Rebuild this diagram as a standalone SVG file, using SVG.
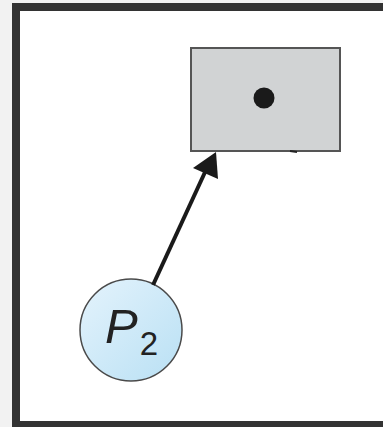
<svg xmlns="http://www.w3.org/2000/svg" width="383" height="427" viewBox="0 0 383 427">
  <defs>
    <linearGradient id="blue" x1="0" y1="0" x2="1" y2="1">
      <stop offset="0" stop-color="#e4f3fc"/>
      <stop offset="1" stop-color="#b9e0f4"/>
    </linearGradient>
  </defs>
  <style>
    .frame { fill: #ffffff; stroke: #333333; stroke-width: 8; }
    .box { fill: #d1d3d4; stroke: #555555; stroke-width: 2; }
    .proc { fill: url(#blue); stroke: #4a4a4a; stroke-width: 1.5; }
    .edge { stroke: #1a1a1a; stroke-width: 4; fill: none; }
    .label { font-family: "Liberation Sans", Arial, sans-serif; fill: #222222; }
  </style>
  <rect x="0" y="0" width="383" height="427" fill="#f2f2f2"/>
  <rect class="frame" x="16" y="7" width="375" height="418"/>
  <g id="resource">
    <rect class="box" x="191" y="48" width="149" height="103"/>
    <circle cx="264" cy="98" r="10.5" fill="#1a1a1a"/>
    <path d="M290,151 L297,152" stroke="#222" stroke-width="2"/>
  </g>
  <g id="p2">
    <circle class="proc" cx="131" cy="330" r="51"/>
    <text class="label" x="105" y="343" font-size="49"><tspan font-style="italic">P</tspan><tspan dx="2" dy="12" font-size="33">2</tspan></text>
  </g>
  <g id="connectors">
    <line class="edge" x1="153" y1="285" x2="206" y2="170"/>
    <path d="M216,152 L218,179 L193,168 Z" fill="#1a1a1a"/>
  </g>
</svg>
